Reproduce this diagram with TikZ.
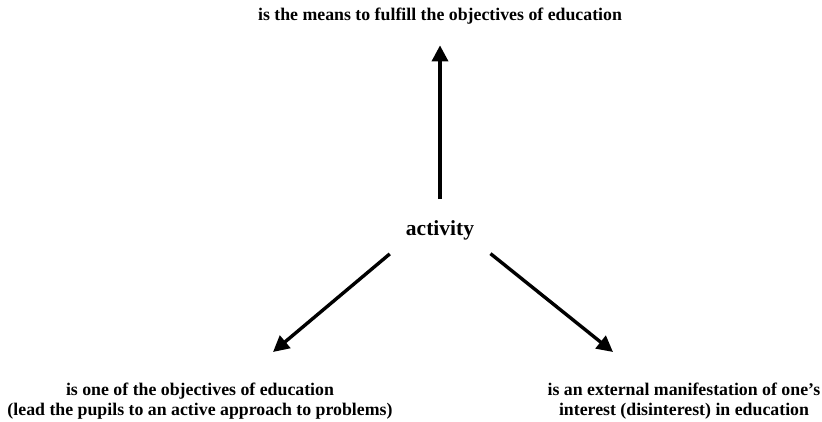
\documentclass[tikz,border=0pt]{standalone}
\usepackage{fontspec}
\setmainfont{Liberation Serif}
\usetikzlibrary{arrows.meta}
\tikzset{
  label text/.style={font=\fontsize{17.8}{20.5}\selectfont\bfseries, align=center, inner sep=3pt},
  main text/.style={font=\fontsize{21.5}{24}\selectfont\bfseries, inner sep=3pt},
  thick arrow/.style={line width=3.4pt, -{Triangle[length=16pt,width=16pt]}}
}
\begin{document}
\begin{tikzpicture}[x=1pt,y=-1pt]
  \useasboundingbox (0,0) rectangle (822,422);
  \node[label text] (top) at (440,16) {is the means to fulfill the objectives of education};
  \node[main text] (act) at (440,230) {activity};
  \node[label text] (left) at (200,401) {is one of the objectives of education\\(lead the pupils to an active approach to problems)};
  \node[label text] (right) at (684,401) {is an external manifestation of one’s\\interest (disinterest) in education};
  \coordinate (ltip) at (273,352);
  \coordinate (rtip) at (613,352);
  \draw[thick arrow, shorten <=18pt, shorten >=18pt] (act.north) -- (top.south);
  \draw[thick arrow, shorten <=17pt] (act.south west) -- (ltip);
  \draw[thick arrow, shorten <=17pt] (act.south east) -- (rtip);
\end{tikzpicture}
\end{document}
